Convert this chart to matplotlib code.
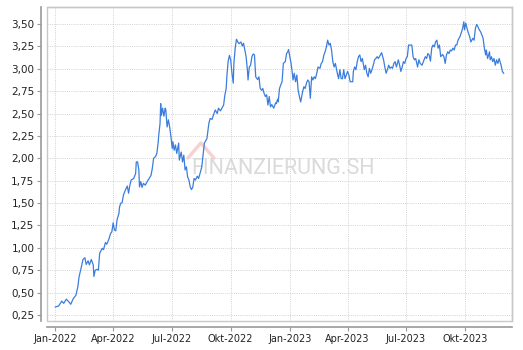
import numpy as np
import pandas as pd
import matplotlib
matplotlib.use("Agg")
import matplotlib.pyplot as plt
from matplotlib.patches import Rectangle

# days since 2022-01-01 and closing price
days = [0, 5, 10, 13, 17, 21, 24, 28, 32, 35, 37, 40, 43, 46, 48, 51, 53, 56, 59, 60,
        62, 65, 67, 69, 73, 75, 78, 80, 83, 86, 88, 90, 92, 94, 96, 99, 100, 102, 104, 106,
        109, 112, 114,
        116, 118, 122, 125, 126, 128, 130, 131, 133, 135, 137, 140, 143, 146, 149, 151, 153, 156,
        158, 160, 161, 163, 164, 165, 167, 169, 171, 172, 174, 176, 178, 180, 182, 183, 185, 187,
        189, 192, 193, 196, 198, 200, 202, 204, 206, 208, 210, 212, 214, 216, 218, 221, 223, 226,
        228, 230, 232,
        236, 239, 241, 244, 246, 249, 252, 254, 257, 260, 262, 264, 266, 267, 269, 271, 273, 275,
        277, 278, 280, 282, 284, 286, 289, 291, 293, 295, 297, 299, 300, 302, 304, 306, 308, 310,
        312, 315, 317, 319, 321, 323, 325, 327, 329, 331, 333, 335, 337, 340, 343,
        344, 346, 347, 349, 352, 353, 355, 358, 360, 362, 363, 365, 367, 369, 370, 372, 374, 376,
        378, 380, 382, 385, 387, 389, 391, 393, 395, 397, 399, 401, 403, 405, 407, 409, 412, 414,
        416, 418, 420, 422, 424, 426, 428, 430, 432, 434, 436, 439, 441, 443, 445, 447, 449, 451,
        453, 455, 457, 459,
        463, 464, 466, 468, 470, 472, 474, 476, 478, 481, 483, 485, 487, 489, 491, 493, 495, 497,
        499, 501, 503, 506, 508, 511, 513, 515, 517, 519, 521, 523, 525, 527, 529, 531, 534, 536,
        538, 540, 542, 544, 546, 548, 550, 553, 555, 557, 559, 561, 564, 566, 568,
        571, 573, 576, 578, 580, 582, 584, 586, 588, 590, 592, 594, 596, 598, 600, 603, 605, 607,
        609, 611, 613, 615, 617, 619, 621, 623, 625, 627, 630, 632, 634, 636, 637, 639, 641, 643,
        645, 647, 650, 652, 654, 656, 658, 660, 662, 664, 666, 668, 670, 671, 673, 676, 677, 679,
        681, 683, 685, 687, 689, 691, 694, 696, 698]
price = [0.34, 0.35, 0.405, 0.38, 0.427, 0.397, 0.37, 0.435, 0.47, 0.565, 0.68, 0.77, 0.87, 0.89, 0.815, 0.855, 0.81, 0.87, 0.81, 0.68,
         0.75, 0.76, 0.75, 0.94, 0.995, 0.98, 1.06, 1.04, 1.09, 1.16, 1.18, 1.28, 1.20, 1.19, 1.31, 1.385, 1.46, 1.50, 1.505, 1.59,
         1.645, 1.69, 1.61,
         1.70, 1.757, 1.775, 1.83, 1.96, 1.96, 1.87, 1.68, 1.74, 1.675, 1.72, 1.70, 1.74, 1.775, 1.81, 1.89, 2.00, 2.02,
         2.055, 2.17, 2.26, 2.39, 2.61, 2.48, 2.56, 2.47, 2.56, 2.54, 2.35, 2.43, 2.35, 2.24, 2.11, 2.185, 2.09, 2.15,
         2.055, 2.17, 1.98, 2.07, 1.96, 2.035, 1.87, 1.905, 1.79, 1.757, 1.68, 1.65, 1.68, 1.775, 1.757, 1.80, 1.775, 1.85,
         1.905, 2.035, 2.17,
         2.22, 2.39, 2.445, 2.435, 2.48, 2.54, 2.50, 2.56, 2.53, 2.57, 2.595, 2.71, 2.78, 2.91, 3.08, 3.15, 3.10, 2.95,
         2.84, 3.06, 3.23, 3.33, 3.30, 3.28, 3.30, 3.255, 3.285, 3.21, 3.135, 2.99, 2.875, 3.02, 3.04, 3.135, 3.165, 3.155,
         2.91, 2.88, 2.91, 2.78, 2.76, 2.78, 2.725, 2.69, 2.71, 2.595, 2.69, 2.575, 2.60, 2.56, 2.62,
         2.61, 2.66, 2.63, 2.78, 2.84, 2.855, 3.06, 3.08, 3.17, 3.19, 3.215, 3.135, 3.06, 2.95, 2.875, 2.95, 2.855, 2.93,
         2.76, 2.69, 2.63, 2.745, 2.80, 2.78, 2.84, 2.875, 2.855, 2.67, 2.91, 2.875, 2.91, 2.89, 2.95, 3.02, 3.005, 3.06,
         3.08, 3.15, 3.19, 3.245, 3.32, 3.265, 3.285, 3.21, 3.08, 3.02, 3.06, 2.95, 2.89, 2.99, 2.89, 2.89, 2.99, 2.89,
         2.93, 2.97, 2.93, 2.855,
         2.855, 2.97, 3.02, 2.99, 3.08, 3.135, 3.155, 3.08, 3.115, 2.99, 3.04, 2.95, 2.91, 3.005, 2.95, 2.99, 3.04, 3.10,
         3.115, 3.135, 3.115, 3.155, 3.18, 3.10, 3.02, 2.95, 2.99, 3.04, 3.005, 3.02, 3.005, 3.06, 3.08, 3.02, 3.10, 3.04,
         2.97, 3.02, 3.08, 3.06, 3.115, 3.135, 3.265, 3.265, 3.265, 3.135, 3.10, 3.115, 3.02, 3.10, 3.06,
         3.04, 3.08, 3.135, 3.115, 3.17, 3.155, 3.085, 3.23, 3.265, 3.245, 3.30, 3.32, 3.23, 3.265, 3.135, 3.16, 3.135, 3.06,
         3.155, 3.19, 3.17, 3.21, 3.20, 3.23, 3.21, 3.265, 3.265, 3.32, 3.36, 3.40, 3.45, 3.525, 3.435, 3.51, 3.45, 3.40,
         3.36, 3.30, 3.34, 3.32, 3.45, 3.495, 3.47, 3.435, 3.415, 3.38, 3.34, 3.23, 3.155, 3.21, 3.115, 3.19, 3.10, 3.135,
         3.08, 3.115, 3.04, 3.10, 3.06, 3.115, 3.04, 2.97, 2.95]

tick_dates = ["2022-01-01", "2022-04-01", "2022-07-01", "2022-10-01",
              "2023-01-01", "2023-04-01", "2023-07-01", "2023-10-01"]
tick_labels = ["Jan-2022", "Apr-2022", "Jul-2022", "Okt-2022",
               "Jan-2023", "Apr-2023", "Jul-2023", "Okt-2023"]
y_ticks = [0.25, 0.50, 0.75, 1.00, 1.25, 1.50, 1.75, 2.00, 2.25, 2.50, 2.75, 3.00, 3.25, 3.50]

dates = pd.Timestamp("2022-01-01") + pd.to_timedelta(days, unit="D")

fig = plt.figure(figsize=(5.23, 3.5), dpi=100)
fig.patch.set_facecolor("white")
ax = fig.add_axes([47 / 523, 1 - 321 / 350, 465 / 523, 314 / 350])

ax.plot(dates, price, color="#3b7ddd", lw=0.9, zorder=3)

ax.set_xlim(pd.Timestamp("2021-12-19"), pd.Timestamp("2023-12-13"))
ax.set_ylim(0.183, 3.69)
ax.set_xticks(pd.to_datetime(tick_dates))
ax.set_xticklabels(tick_labels)
ax.set_yticks(y_ticks)
ax.set_yticklabels([f"{v:.2f}".replace(".", ",") for v in y_ticks])

ax.grid(True, color="#cdcdcd", linestyle=(0, (1.2, 1.4)), lw=0.6, zorder=0)
ax.set_axisbelow(True)

# offset axis lines plus a light frame round the plot area
for side in ["left", "bottom"]:
    ax.spines[side].set_position(("outward", 4))
    ax.spines[side].set_color("#999999")
    ax.spines[side].set_linewidth(1.2)
for side in ["top", "right"]:
    ax.spines[side].set_color("#c8c8c8")
    ax.spines[side].set_linewidth(1.0)
ax.add_patch(Rectangle((0, 0), 1, 1, transform=ax.transAxes, fill=False,
                       ec="#c8c8c8", lw=1.0, clip_on=False, zorder=1))

ax.tick_params(length=3, width=0.8, color="#999999", labelsize=7, pad=2, labelcolor="#222222")
ax.tick_params(axis="y", labelsize=7.5)

# watermark
ax.plot([0.303, 0.331, 0.359], [0.519, 0.567, 0.519], transform=ax.transAxes,
        color="#f4c9c5", lw=2.5, alpha=0.8, zorder=2, solid_capstyle="round")
ax.text(0.508, 0.487, "FINANZIERUNG.SH", transform=ax.transAxes, ha="center", va="center",
        fontsize=15.5, family="Roboto", color="#d6d6d6", alpha=0.9, zorder=2)

fig.savefig("out.png", dpi=100, facecolor="white")
